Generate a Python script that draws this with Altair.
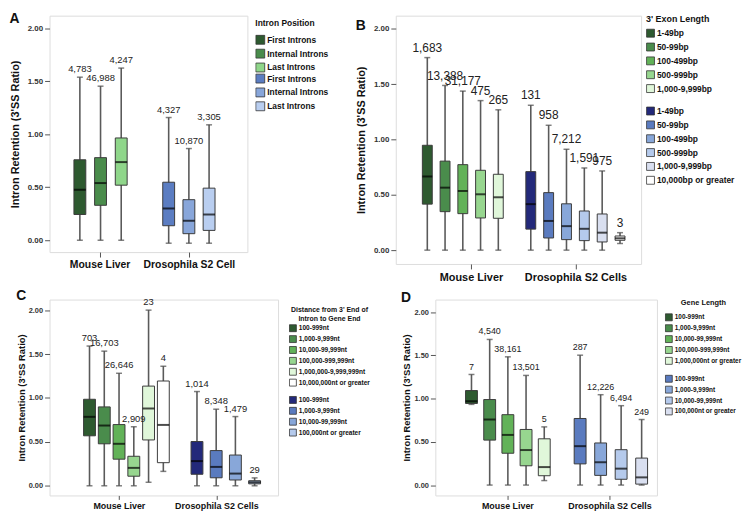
import altair as alt
import pandas as pd

FONT = "Liberation Sans"

# ---------------- Panel A : Intron Position ----------------
a_mouse_labels = ["First Introns", "Internal Introns", "Last Introns"]
a_mouse_counts = ["4,783", "46,988", "4,247"]
a_mouse_min = [0.0, 0.0, 0.0]
a_mouse_q1 = [0.243, 0.33, 0.52]
a_mouse_med = [0.477, 0.54, 0.738]
a_mouse_q3 = [0.76, 0.78, 0.966]
a_mouse_max = [1.54, 1.455, 1.626]
a_dros_labels = ["First Introns", "Internal Introns", "Last Introns"]
a_dros_counts = ["4,327", "10,870", "3,305"]
a_dros_min = [-0.028, -0.028, -0.028]
a_dros_q1 = [0.137, 0.062, 0.093]
a_dros_med = [0.30, 0.184, 0.243]
a_dros_q3 = [0.548, 0.383, 0.492]
a_dros_max = [1.159, 0.866, 1.09]

# ---------------- Panel B : 3' Exon Length ----------------
b_mouse_labels = ["1-49bp", "50-99bp", "100-499bp", "500-999bp", "1,000-9,999bp"]
b_mouse_counts = ["1,683", "13,388", "31,177", "475", "265"]
b_mouse_min = [0.0, 0.0, 0.0, 0.0, 0.0]
b_mouse_q1 = [0.416, 0.348, 0.33, 0.291, 0.288]
b_mouse_med = [0.666, 0.565, 0.535, 0.505, 0.478]
b_mouse_q3 = [0.948, 0.805, 0.773, 0.722, 0.686]
b_mouse_max = [1.741, 1.489, 1.438, 1.352, 1.269]
b_dros_labels = ["1-49bp", "50-99bp", "100-499bp", "500-999bp", "1,000-9,999bp",
                 "10,000bp or greater"]
b_dros_counts = ["131", "958", "7,212", "1,591", "975", "3"]
b_dros_min = [0.0, 0.0, 0.0, 0.0, 0.0, 0.06]
b_dros_q1 = [0.19, 0.11, 0.095, 0.086, 0.074, 0.089]
b_dros_med = [0.416, 0.264, 0.217, 0.193, 0.158, 0.107]
b_dros_q3 = [0.71, 0.52, 0.419, 0.354, 0.327, 0.128]
b_dros_max = [1.31, 1.129, 0.912, 0.743, 0.716, 0.158]

# ---------------- Panel C : Distance to gene end ----------------
c_mouse_labels = ["100-999nt", "1,000-9,999nt", "10,000-99,999nt", "100,000-999,999nt",
                  "1,000,000-9,999,999nt", "10,000,000nt or greater"]
c_mouse_counts = ["703", "16,703", "26,646", "2,909", "23", "4"]
c_mouse_min = [0.0, 0.0, 0.0, 0.0, 0.04, 0.164]
c_mouse_q1 = [0.569, 0.478, 0.303, 0.109, 0.522, 0.263]
c_mouse_med = [0.785, 0.686, 0.478, 0.204, 0.88, 0.693]
c_mouse_q3 = [0.985, 0.898, 0.697, 0.336, 1.135, 1.193]
c_mouse_max = [1.591, 1.533, 1.281, 0.672, 2.0, 1.361]
c_dros_labels = ["100-999nt", "1,000-9,999nt", "10,000-99,999nt", "100,000nt or greater"]
c_dros_counts = ["1,014", "8,348", "1,479", "29"]
c_dros_min = [0.0, 0.0, 0.0, 0.0]
c_dros_q1 = [0.131, 0.091, 0.066, 0.022]
c_dros_med = [0.281, 0.215, 0.139, 0.04]
c_dros_q3 = [0.504, 0.401, 0.35, 0.058]
c_dros_max = [1.073, 0.872, 0.788, 0.09]

# ---------------- Panel D : Gene Length ----------------
d_mouse_labels = ["100-999nt", "1,000-9,999nt", "10,000-99,999nt", "100,000-999,999nt",
                  "1,000,000nt or greater"]
d_mouse_counts = ["7", "4,540", "38,161", "13,501", "5"]
d_mouse_min = [0.933, 0.0, 0.0, 0.0, 0.052]
d_mouse_q1 = [0.944, 0.52, 0.368, 0.223, 0.108]
d_mouse_med = [0.97, 0.758, 0.58, 0.405, 0.208]
d_mouse_q3 = [1.093, 0.989, 0.814, 0.643, 0.535]
d_mouse_max = [1.279, 1.684, 1.483, 1.268, 0.673]
d_dros_labels = ["100-999nt", "1,000-9,999nt", "10,000-99,999nt", "100,000nt or greater"]
d_dros_counts = ["287", "12,226", "6,494", "249"]
d_dros_min = [0.0, 0.0, 0.0, 0.0]
d_dros_q1 = [0.245, 0.112, 0.067, 0.011]
d_dros_med = [0.45, 0.264, 0.19, 0.089]
d_dros_q3 = [0.77, 0.487, 0.409, 0.312]
d_dros_max = [1.502, 1.045, 0.918, 0.758]

# ---------------- palettes (style) ----------------
GREENS = ["#2e5a30", "#4a8c4c", "#62b258", "#97d68f", "#e0f7da", "#ffffff"]
GREENS_A = ["#2e5a30", "#4a8c4c", "#8fd68a"]
BLUES_A = ["#5b7dc2", "#88a6da", "#b9cef0"]
BLUES_B = ["#23297a", "#5a7bbf", "#88a7d9", "#b5caec", "#d9dff0", "#ffffff"]
BLUES_C = ["#23297a", "#5a7bbf", "#88a7d9", "#b5caec"]
BLUES_D = ["#5a7bbf", "#88a7d9", "#b5caec", "#d9dff0"]


def group_frame(labels, counts, mins, q1s, meds, q3s, maxs, center, step, nslots):
    rows = []
    for i, lab in enumerate(labels):
        rows.append(dict(label=lab, count=counts[i], lo=mins[i], q1=q1s[i], med=meds[i],
                         q3=q3s[i], hi=maxs[i],
                         pos=center + (i - (nslots - 1) / 2.0) * step))
    return pd.DataFrame(rows)


def panel(letter, mouse, dros, m_pal, d_pal, lay, leg):
    width, height = lay["w"], lay["h"]
    dm = group_frame(*mouse, lay["centers"][0], lay["steps"][0], lay["nslots"][0])
    dd = group_frame(*dros, lay["centers"][1], lay["steps"][1], lay["nslots"][1])
    dall = pd.concat([dm, dd], ignore_index=True)

    xscale = alt.Scale(domain=[0, width], nice=False, zero=False)
    xaxis = alt.Axis(values=lay["ticks"], title=None, grid=False, domain=False,
                     tickSize=lay.get("xts", 5), tickColor="#555", tickWidth=1,
                     labelExpr=f"datum.value < {width / 2} ? '{lay['names'][0]}' : '{lay['names'][1]}'",
                     labelFont=FONT, labelFontSize=lay["xfs"], labelFontWeight="bold",
                     labelColor="#111", labelPadding=lay.get("xlp", 3))
    X = alt.X("pos:Q", scale=xscale, axis=xaxis)
    yscale = alt.Scale(domain=lay["ydom"], nice=False, zero=False)
    yaxis = alt.Axis(values=[0, 0.5, 1.0, 1.5, 2.0], format=".2f", grid=False, domain=False,
                     tickSize=5, tickColor="#555", labelFont=FONT, labelFontSize=lay["yfs"],
                     labelFontWeight="bold", labelColor="#333", labelPadding=2,
                     titleFont=FONT, titleFontSize=lay["ytfs"], titleFontWeight="bold",
                     titleColor="#111", titlePadding=lay["ytp"])
    ytitle = "Intron Retention (3'SS Ratio)"

    def Y(f):
        return alt.Y(f"{f}:Q", scale=yscale, axis=yaxis, title=ytitle)

    base = alt.Chart(dall)
    whisk = base.mark_rule(color="#5a5a5a", strokeWidth=1.6).encode(x=X, y=Y("lo"), y2="hi:Q")
    cap_hi = base.mark_tick(orient="horizontal", color="#4a4a4a", size=lay["cap"],
                            thickness=1.5).encode(x=X, y=Y("hi"))
    cap_lo = base.mark_tick(orient="horizontal", color="#4a4a4a", size=lay["cap"],
                            thickness=1.5).encode(x=X, y=Y("lo"))

    def legend(title, ly):
        kw = dict(orient="none", legendX=leg["x"], legendY=ly, symbolType="square",
                  symbolSize=leg["sym"], symbolStrokeColor="#333", symbolStrokeWidth=0.8,
                  labelFont=FONT, labelFontSize=leg["lfs"], labelFontWeight="bold",
                  labelColor="#111", labelOffset=2, rowPadding=0, clipHeight=leg["row"],
                  titleFont=FONT, titleFontSize=leg["tfs"], titleFontWeight="bold",
                  titleColor="#111", titlePadding=leg["tp"], titleLimit=400, labelLimit=300,
                  titleLineHeight=leg["tfs"] + 1.5)
        if title is not None:
            kw["title"] = title
            kw["titleAnchor"] = leg.get("ta", "start")
        else:
            kw["title"] = None
        return alt.Legend(**kw)

    bw = lay["box"]
    box_m = alt.Chart(dm).mark_bar(size=bw, stroke="#3c3c3c", strokeWidth=1).encode(
        x=X, y=Y("q1"), y2="q3:Q",
        fill=alt.Fill("label:N", scale=alt.Scale(domain=list(dm["label"]), range=m_pal),
                      legend=legend(leg["title"], leg["ym"])))
    box_d = alt.Chart(dd).mark_bar(size=bw, stroke="#3c3c3c", strokeWidth=1).encode(
        x=X, y=Y("q1"), y2="q3:Q",
        fill=alt.Fill("label:N", scale=alt.Scale(domain=list(dd["label"]), range=d_pal),
                      legend=legend(None, leg["yd"])))
    med = base.mark_tick(orient="horizontal", color="#000", size=bw,
                         thickness=2).encode(x=X, y=Y("med"))
    txt = base.mark_text(baseline="bottom", dy=-3, font=FONT, fontSize=lay["cfs"],
                         color="#222").encode(x=X, y=Y("hi"), text="count:N")

    return alt.layer(whisk, cap_hi, cap_lo, box_m, box_d, med, txt).resolve_scale(
        fill="independent").properties(
        width=width, height=height,
        title=alt.TitleParams(letter, anchor="start", frame="bounds", font=FONT,
                              fontSize=14, fontWeight="bold", color="#111",
                              offset=lay["toff"]))


A = panel("A",
          (a_mouse_labels, a_mouse_counts, a_mouse_min, a_mouse_q1, a_mouse_med, a_mouse_q3, a_mouse_max),
          (a_dros_labels, a_dros_counts, a_dros_min, a_dros_q1, a_dros_med, a_dros_q3, a_dros_max),
          GREENS_A, BLUES_A,
          dict(w=200, h=239, ydom=[-0.112, 2.121], centers=[49, 143], steps=[22, 21.5],
               nslots=[3, 3], ticks=[48, 143], names=["Mouse Liver", "Drosophila S2 Cell"],
               box=12, cap=6, cfs=9.5, xfs=10.5, yfs=8, ytfs=11, ytp=7, toff=-10),
          dict(title="Intron Position", x=208, ym=3.3, yd=57, sym=81, lfs=8.5, row=13.2,
               tfs=8.5, tp=6))

B = panel("B",
          (b_mouse_labels, b_mouse_counts, b_mouse_min, b_mouse_q1, b_mouse_med, b_mouse_q3, b_mouse_max),
          (b_dros_labels, b_dros_counts, b_dros_min, b_dros_q1, b_dros_med, b_dros_q3, b_dros_max),
          GREENS[:5], BLUES_B,
          dict(w=248, h=251, ydom=[-0.125, 2.12], centers=[74.75, 184], steps=[18.7, 18.8],
               nslots=[6, 6], ticks=[74, 184], names=["Mouse Liver", "Drosophila S2 Cells"],
               box=10, cap=6, cfs=12, xfs=11, yfs=8, ytfs=11, ytp=7, toff=-18),
          dict(title="3' Exon Length", x=253, ym=-0.5, yd=89.7, sym=64, lfs=8.5, row=13.4,
               tfs=9, tp=2.5))

C = panel("C",
          (c_mouse_labels, c_mouse_counts, c_mouse_min, c_mouse_q1, c_mouse_med, c_mouse_q3, c_mouse_max),
          (c_dros_labels, c_dros_counts, c_dros_min, c_dros_q1, c_dros_med, c_dros_q3, c_dros_max),
          GREENS, BLUES_C,
          dict(w=231, h=198, ydom=[-0.11, 2.12], centers=[76, 181], steps=[15.6, 20.3],
               nslots=[6, 4], ticks=[68, 171], names=["Mouse Liver", "Drosophila S2 Cells"],
               box=12, cap=6, cfs=9.5, xfs=9, yfs=7.5, ytfs=9.5, ytp=2, toff=-6,
               xts=4, xlp=2),
          dict(title=["Distance from 3' End of", "Intron to Gene End"], x=242, ym=7, yd=96,
               sym=49, lfs=6.6, row=10.9, tfs=7, tp=1, ta="middle"))

D = panel("D",
          (d_mouse_labels, d_mouse_counts, d_mouse_min, d_mouse_q1, d_mouse_med, d_mouse_q3, d_mouse_max),
          (d_dros_labels, d_dros_counts, d_dros_min, d_dros_q1, d_dros_med, d_dros_q3, d_dros_max),
          GREENS[:5], BLUES_D,
          dict(w=224, h=198, ydom=[-0.12, 2.145], centers=[71.5, 180.5], steps=[19.25, 21.7],
               nslots=[5, 4], ticks=[71, 179], names=["Mouse Liver", "Drosophila S2 Cells"],
               box=12, cap=6, cfs=9, xfs=9, yfs=7.5, ytfs=9.5, ytp=3, toff=-6,
               xts=4, xlp=2),
          dict(title="Gene Length", x=232, ym=-1, yd=74.6, sym=49, lfs=6.5, row=10.9,
               tfs=7.5, tp=6, ta="middle"))

row1 = alt.hconcat(A, B, spacing=25).resolve_scale(fill="independent")
row2 = alt.hconcat(C, D, spacing=29).resolve_scale(fill="independent")

chart = alt.vconcat(row1, row2, spacing=5).resolve_scale(fill="independent").properties(
    padding={"left": 0, "top": 0, "right": 0, "bottom": 0}
).configure_view(stroke="#8c8c8c", strokeWidth=1.5).configure(background="white")

chart.save("out.html", embed_options={"renderer": "svg", "actions": False})
